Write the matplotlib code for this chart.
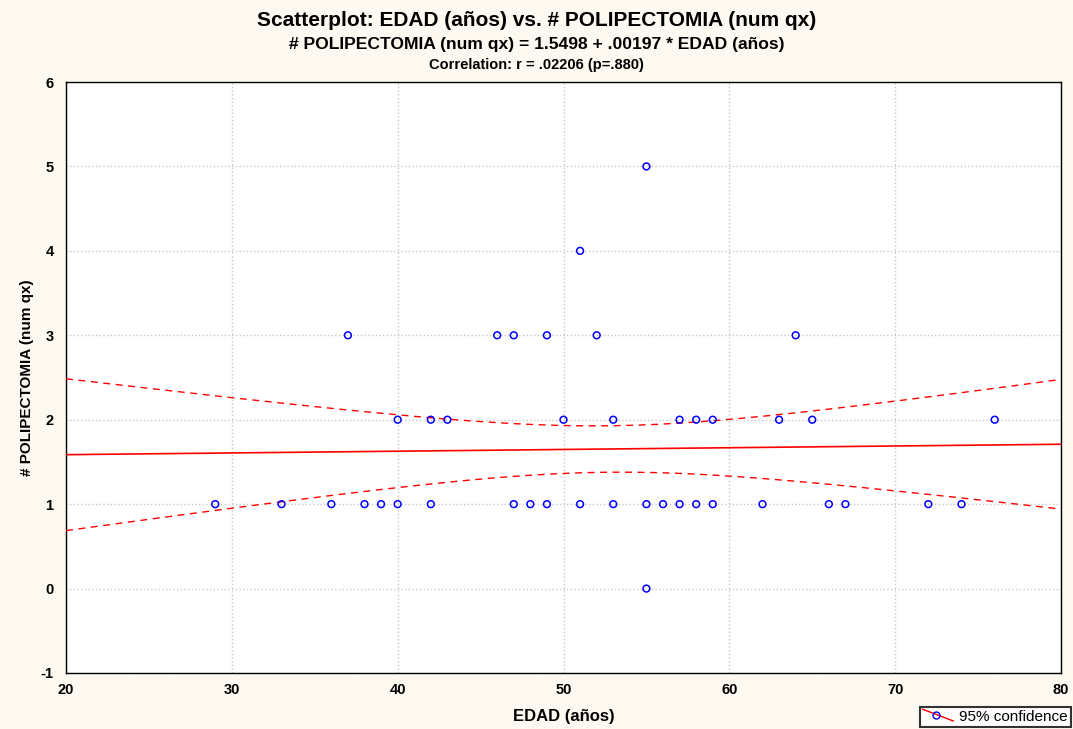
import matplotlib.pyplot as plt
from matplotlib.legend_handler import HandlerBase
from matplotlib.lines import Line2D
import numpy as np

plt.rcParams['font.family'] = ['Liberation Sans', 'DejaVu Sans']
plt.rcParams['axes.unicode_minus'] = False

# EDAD (años) and # POLIPECTOMIA (num qx)
edad = [29, 33, 36, 38, 39, 40, 42, 47, 48, 49, 51, 53, 55, 56, 57, 58, 59, 62, 66, 67, 72, 74,
        40, 42, 43, 50, 53, 57, 58, 59, 63, 65, 76,
        37, 46, 47, 49, 52, 64,
        51, 55, 55]
polip = [1] * 22 + [2] * 11 + [3] * 6 + [4, 5, 0]
# overlapping points (not visible, implied by the fit in the title)
edad_dup = [47, 49, 53, 56, 58, 59, 65]
polip_dup = [1, 1, 1, 1, 2, 2, 2]

x = np.array(edad + edad_dup, dtype=float)
y = np.array(polip + polip_dup, dtype=float)
n = len(x)
b, a = np.polyfit(x, y, 1)
resid = y - (a + b * x)
s = np.sqrt(np.sum(resid ** 2) / (n - 2))
sxx = np.sum((x - x.mean()) ** 2)
t = 2.0117  # t(0.975, 47)

xs = np.linspace(20, 80, 200)
fit = a + b * xs
half = t * s * np.sqrt(1.0 / n + (xs - x.mean()) ** 2 / sxx)


class DiagHandler(HandlerBase):
    def create_artists(self, legend, orig_handle, xdescent, ydescent, width, height, fontsize, trans):
        ln = Line2D([0, width], [height, 0], color='red', lw=1.0, transform=trans)
        mk = Line2D([width * 0.45], [height * 0.55], marker='o', mfc='none', mec='blue',
                    ms=5, mew=1.0, transform=trans)
        return [ln, mk]


fig = plt.figure(figsize=(10.73, 7.29), dpi=100, facecolor='#fdf9f0')
ax = fig.add_axes([66 / 1073, 1 - 673 / 729, (1061 - 66) / 1073, (673 - 82) / 729])
ax.set_facecolor('white')

ax.plot(xs, fit, color='red', lw=1.2, zorder=3)
ax.plot(xs, fit + half, color='red', lw=1.0, ls=(0, (5, 4)), zorder=3)
ax.plot(xs, fit - half, color='red', lw=1.0, ls=(0, (5, 4)), zorder=3)
ax.scatter(edad, polip, s=24, facecolors='none', edgecolors='blue', linewidths=1.1, zorder=4)

ax.set_xlim(20, 80)
ax.set_ylim(-1, 6)
ax.set_xticks(range(20, 81, 10))
ax.set_yticks(range(-1, 7))
ax.grid(True, color='#c8c8c8', ls=':', lw=1.0)
ax.tick_params(direction='in', length=0, labelsize=10.5)
ax.tick_params(axis='x', pad=7)
ax.tick_params(axis='y', pad=9)
for lab in ax.get_xticklabels() + ax.get_yticklabels():
    lab.set_fontweight('bold')
for sp in ax.spines.values():
    sp.set_color('black')
    sp.set_linewidth(1.0)

ax.set_xlabel('EDAD (años)', fontsize=12, fontweight='bold', labelpad=9)
ax.set_ylabel('# POLIPECTOMIA (num qx)', fontsize=11, fontweight='bold', labelpad=5)

fig.text(0.5, 1 - 20 / 729, 'Scatterplot: EDAD (años) vs. # POLIPECTOMIA (num qx)',
         ha='center', va='center', fontsize=15, fontweight='bold')
fig.text(0.5, 1 - 45 / 729, '# POLIPECTOMIA (num qx) = 1.5498 + .00197 * EDAD (años)',
         ha='center', va='center', fontsize=12.6, fontweight='bold')
fig.text(0.5, 1 - 65 / 729, 'Correlation: r = .02206 (p=.880)',
         ha='center', va='center', fontsize=10.5, fontweight='bold')

h = Line2D([], [])
leg = fig.legend([h], ['95% confidence'], handler_map={Line2D: DiagHandler()},
                 loc='lower right', bbox_to_anchor=(1071 / 1073, 1 - 727 / 729), fontsize=11,
                 frameon=True, fancybox=False, edgecolor='black', facecolor='white',
                 handlelength=2.0, handleheight=0.8, borderpad=0.2, handletextpad=0.4,
                 borderaxespad=0)
leg.get_frame().set_linewidth(1.5)

fig.savefig('out.png', dpi=100, facecolor=fig.get_facecolor())
